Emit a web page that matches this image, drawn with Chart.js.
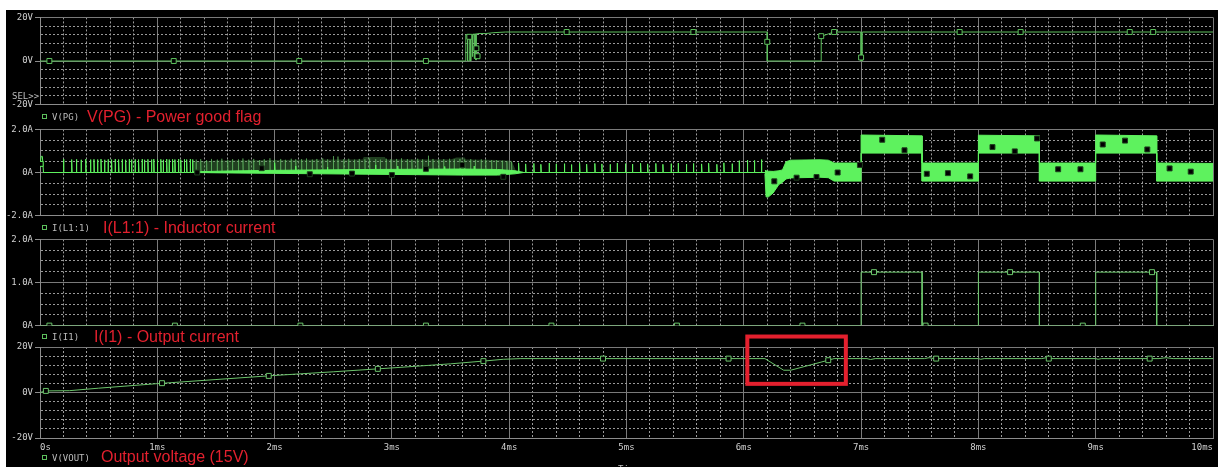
<!DOCTYPE html>
<html>
<head>
<meta charset="utf-8">
<title>Transient simulation</title>
<script src="https://cdn.jsdelivr.net/npm/chart.js@4.4.1/dist/chart.umd.min.js"></script>
<style>
  body { margin: 0; background: #fff; width: 1223px; height: 473px; overflow: hidden; position: relative; }
  #scope { position: absolute; left: 6px; top: 10px; width: 1212px; height: 457px; background: #000; overflow: hidden; }
  #scope canvas { position: absolute; left: 0; }
  .lbl { position: absolute; white-space: nowrap; }
  .mono { font: 9px "DejaVu Sans Mono", monospace; color: #bdbdbd; line-height: 10px; }
  .mono i { display: inline-block; width: 3px; height: 3px; border: 1px solid #5cbf5c; margin-right: 5px; vertical-align: 1px; }
  .red { font: 16px "Liberation Sans", Arial, sans-serif; color: #e3202e; line-height: 18px; }
</style>
</head>
<body>
<div id="scope">
  <canvas id="pgChart" width="1212" height="102" style="top:0px"></canvas>
  <canvas id="ilChart" width="1212" height="101" style="top:112px"></canvas>
  <canvas id="ioChart" width="1212" height="101" style="top:222px"></canvas>
  <canvas id="voChart" width="1212" height="120" style="top:324px"></canvas>

  <div class="lbl mono" style="left:6px;top:81px">SEL&gt;&gt;</div>
  <div class="lbl mono" style="left:36px;top:102px"><i></i>V(PG)</div>
  <div class="lbl red" style="left:81px;top:98px">V(PG) - Power good flag</div>
  <div class="lbl mono" style="left:36px;top:213px"><i></i>I(L1:1)</div>
  <div class="lbl red" style="left:97px;top:209px">I(L1:1) - Inductor current</div>
  <div class="lbl mono" style="left:36px;top:322px"><i></i>I(I1)</div>
  <div class="lbl red" style="left:88px;top:318px">I(I1) - Output current</div>
  <div class="lbl mono" style="left:36px;top:443px"><i></i>V(VOUT)</div>
  <div class="lbl red" style="left:95px;top:438px">Output voltage (15V)</div>
  <div class="lbl mono" style="left:612px;top:454px">Time</div>
</div>
<script>
// time axis (ms)
const timeTicks = [0, 1, 2, 3, 4, 5, 6, 7, 8, 9, 10];
const timeLabels = ['0s', '1ms', '2ms', '3ms', '4ms', '5ms', '6ms', '7ms', '8ms', '9ms', '10ms'];

// V(PG) - power good flag
const pgTicks = [-20, 0, 20];
const pgTickLabels = ['-20V', '0V', '20V'];
const pgT = [0, 3.63, 3.63, 3.645, 3.645, 3.66, 3.66, 3.67, 3.67, 3.675, 3.675, 3.685, 3.685, 3.69, 3.69, 3.70, 3.70, 3.705, 3.705, 3.715, 3.715, 3.72, 3.72, 3.73, 3.80, 3.87, 3.97, 6.20, 6.20, 6.66, 6.66, 6.72, 6.77, 7.00, 7.00, 7.01, 7.01, 10];
const pgV = [0, 0, 12.0, 12.0, 0, 0, 11.5, 11.5, 0, 0, 12.0, 12.0, 2.0, 2.0, 12.3, 12.3, 1.0, 1.0, 12.4, 12.4, 0.5, 0.5, 12.5, 12.6, 12.6, 13.0, 13.3, 13.3, 0, 0, 11.3, 12.4, 13.3, 13.3, 0, 0, 13.3, 13.3];
const pgMarkT = [0.08, 1.14, 2.21, 3.29, 3.66, 3.72, 3.73, 4.49, 5.57, 6.20, 6.66, 6.77, 7.00, 7.84, 8.36, 9.29, 9.49];
const pgMarkV = [0, 0, 0, 0, 11.1, 5.8, 2.2, 13.3, 13.3, 8.8, 11.4, 13.3, 1.6, 13.3, 13.3, 13.3, 13.3];

// I(L1:1) - inductor current
const ilTicks = [-2, 0, 2];
const ilTickLabels = ['-2.0A', '0A', '2.0A'];
const ilStartT = [0, 0.01, 0.02, 0.03];
const ilStartV = [0.4, 0.75, 0.75, 0];
const ilEarlyT = [0.20, 0.27, 0.31, 0.35, 0.39, 0.43, 0.46, 0.49, 0.52, 0.55, 0.58, 0.61, 0.64, 0.67, 0.70, 0.73, 0.76, 0.78, 0.81, 0.84, 0.87, 0.89, 0.92, 0.95, 0.97, 1.00, 1.03, 1.05, 1.08, 1.10, 1.13, 1.15, 1.18, 1.20, 1.23, 1.25, 1.28, 1.30];
const ilEarlyH = [0.62, 0.60, 0.61, 0.59, 0.62, 0.60, 0.61, 0.60, 0.62, 0.59, 0.61, 0.60, 0.62, 0.60, 0.61, 0.59, 0.62, 0.60, 0.61, 0.60, 0.62, 0.59, 0.61, 0.60, 0.62, 0.60, 0.61, 0.59, 0.62, 0.60, 0.61, 0.60, 0.62, 0.59, 0.61, 0.60, 0.62, 0.60];
const ilPeakT = [2.00, 2.18, 2.45, 2.86, 3.05, 3.45, 3.70];
const ilPeakH = [0.45, 0.30, 0.25, 0.35, 0.30, 0.28, 0.30];
const ilLateT = [4.08, 4.14, 4.21, 4.27, 4.34, 4.40, 4.47, 4.53, 4.60, 4.66, 4.73, 4.79, 4.86, 4.92, 4.99, 5.05, 5.12, 5.18, 5.25, 5.31, 5.38, 5.44, 5.51, 5.57, 5.64, 5.70, 5.77, 5.83, 5.90, 5.96, 6.03, 6.09, 6.15];
const ilLateH = [0.45, 0.40, 0.42, 0.38, 0.44, 0.40, 0.41, 0.37, 0.43, 0.39, 0.42, 0.40, 0.38, 0.44, 0.41, 0.39, 0.43, 0.40, 0.42, 0.38, 0.41, 0.44, 0.39, 0.42, 0.40, 0.43, 0.38, 0.45, 0.41, 0.55, 0.58, 0.56, 0.60];
const ilDenseT = [1.33, 1.37, 1.42, 1.46, 1.51, 1.55, 1.60, 1.64, 1.69, 1.73, 1.78, 1.82, 1.87, 1.91, 1.96, 2.00, 2.05, 2.09, 2.14, 2.18, 2.23, 2.27, 2.32, 2.36, 2.41, 2.45, 2.50, 2.54, 2.59, 2.63, 2.68, 2.72, 2.77, 2.81, 2.86, 2.90, 2.95, 2.99, 3.04, 3.08, 3.13, 3.17, 3.22, 3.26, 3.31, 3.35, 3.40, 3.44, 3.49, 3.53, 3.58, 3.62, 3.67, 3.71, 3.76, 3.80, 3.85, 3.89, 3.94, 3.98, 4.02];
const ilDenseH = [0.60, 0.62, 0.58, 0.63, 0.60, 0.64, 0.59, 0.62, 0.61, 0.65,
                  0.60, 0.63, 0.58, 0.62, 0.66, 0.60, 0.63, 0.59, 0.64, 0.61,
                  0.62, 0.65, 0.60, 0.63, 0.66, 0.61, 0.76, 0.74, 0.62, 0.64,
                  0.60, 0.63, 0.61, 0.65, 0.62, 0.60, 0.64, 0.61, 0.63, 0.66,
                  0.62, 0.60, 0.64, 0.61, 0.78, 0.63, 0.60, 0.62, 0.64, 0.61,
                  0.63, 0.60, 0.62, 0.59, 0.61, 0.60, 0.58, 0.57, 0.55, 0.52,
                  0.50];
const ilNoiseT = [1.30, 1.50, 2.00, 2.50, 2.75, 2.76, 2.94, 2.95, 3.50, 3.55, 3.62, 3.63, 3.90, 4.02, 4.06];
const ilNoiseHi = [0.50, 0.56, 0.58, 0.60, 0.60, 0.72, 0.72, 0.60, 0.60, 0.70, 0.70, 0.60, 0.58, 0.55, 0.05];
const ilBrightT = [1.30, 1.60, 2.00, 2.40, 2.80, 3.20, 3.60, 3.90, 4.05, 4.12];
const ilBrightHi = [0.03, 0.07, 0.10, 0.12, 0.14, 0.15, 0.16, 0.14, 0.08, 0.01];
const ilBrightLo = [0.00, -0.02, -0.04, -0.06, -0.08, -0.10, -0.12, -0.12, -0.06, 0.00];
const ilBandT = [6.18, 6.19, 6.21, 6.25, 6.30, 6.33, 6.36, 6.40, 6.65, 6.72, 6.77, 7.00, 7.00, 7.52, 7.52, 8.00, 8.00, 8.52, 8.52, 9.00, 9.00, 9.52, 9.52, 10];
const ilBandHi = [0.10, 0.08, 0.06, 0.05, 0.08, 0.12, 0.50, 0.57, 0.59, 0.57, 0.44, 0.44, 1.74, 1.70, 0.44, 0.44, 1.73, 1.70, 0.44, 0.44, 1.74, 1.70, 0.44, 0.42];
const ilBandLo = [-0.05, -1.13, -1.13, -0.95, -0.55, -0.45, -0.30, -0.25, -0.22, -0.24, -0.40, -0.40, 0.90, 0.90, -0.40, -0.40, 0.90, 0.90, -0.40, -0.40, 0.90, 0.90, -0.40, -0.40];
const ilMarkT = [0.006, 1.34, 1.89, 2.30, 2.66, 3.00, 3.29, 3.60, 3.95, 6.26, 6.45, 6.62, 6.80, 6.99, 7.18, 7.37, 7.56, 7.74, 7.93, 8.12, 8.31, 8.50, 8.68, 8.87, 9.06, 9.25, 9.44, 9.63, 9.81];
const ilMarkV = [0.40, 0.00, 0.20, -0.08, -0.05, -0.12, 0.17, 0.35, -0.20, -0.41, -0.24, -0.21, 0.00, 0.35, 1.52, 1.03, -0.06, -0.03, -0.18, 1.18, 0.98, 1.58, 0.15, 0.15, 1.30, 1.48, 1.07, 0.19, 0.04];

// I(I1) - output current
const ioTicks = [0, 1, 2];
const ioTickLabels = ['0A', '1.0A', '2.0A'];
const ioT = [0, 7.00, 7.00, 7.52, 7.52, 8.00, 8.00, 8.52, 8.52, 9.00, 9.00, 9.52, 9.52, 10];
const ioV = [0, 0, 1.24, 1.24, 0, 0, 1.24, 1.24, 0, 0, 1.24, 1.24, 0, 0];
const ioMarkT = [0.08, 1.15, 2.22, 3.29, 4.36, 5.43, 6.50, 7.11, 7.55, 8.27, 8.89, 9.48];
const ioMarkV = [0, 0, 0, 0, 0, 0, 0, 1.24, 0, 1.24, 0, 1.24];

// V(VOUT) - output voltage
const voTicks = [-20, 0, 20];
const voTickLabels = ['-20V', '0V', '20V'];
const voT = [0, 0.05, 0.25, 0.50, 1.00, 1.50, 2.00, 2.50, 3.00, 3.50, 3.80, 3.95, 4.10, 6.18, 6.34, 6.40, 6.72, 6.77, 7.05, 7.08, 7.12, 7.54, 7.58, 7.62, 8.00, 8.02, 8.05, 8.54, 8.58, 8.62, 9.00, 9.02, 9.05, 9.54, 9.60, 9.66, 10];
const voV = [0, 0.7, 0.8, 1.9, 3.9, 5.7, 7.5, 9.1, 10.8, 12.6, 13.9, 14.6, 14.9, 14.9, 9.8, 9.8, 14.2, 14.9, 14.9, 14.5, 14.9, 14.9, 15.3, 14.9, 14.9, 14.6, 14.9, 14.9, 15.3, 14.9, 14.9, 14.6, 14.9, 14.9, 15.3, 14.9, 14.9];
const voMarkT = [0.05, 1.04, 1.95, 2.88, 3.78, 4.80, 5.87, 6.72, 7.64, 8.60, 9.46];
const voMarkV = [0.7, 4.1, 7.3, 10.4, 13.8, 14.9, 14.9, 14.2, 14.9, 14.9, 14.9];

// highlighted dip (time ms, volts)
const hlT = [6.03, 6.87];
const hlV = [3.8, 24.6];

const TEXT = '#d0d0d0';
const GRID_DOT = '#9a9a9a';
const GRID_SOLID = '#7a7a7a';
const FRAME = '#8c8c8c';
const PG_COLOR = '#5cbf5c';
const IL_COLOR = '#5ef25e';
const IO_COLOR = '#6cc86c';
const VO_COLOR = '#6cc46c';
const MONO = { family: 'DejaVu Sans Mono', size: 9 };

const pts = (ts, vs) => ts.map((t, i) => ({ x: t, y: vs[i] }));
const spikeTrain = (ts, hs) => ts.flatMap((t, i) => [{ x: t, y: 0 }, { x: t, y: hs[i] }, { x: t + 0.004, y: 0 }]);
const near = (v, list) => list.some(m => Math.abs(m - v) < 1e-9);
const labelFor = (v, vals, labels) => {
  const i = vals.findIndex(m => Math.abs(m - v) < 1e-9);
  return i < 0 ? '' : labels[i];
};

function trace(data, color, extra) {
  return Object.assign({ data, borderColor: color, borderWidth: 1, pointRadius: 0, fill: false }, extra || {});
}
function markers(data, border) {
  return {
    data, showLine: false, pointStyle: 'rect', pointRadius: 3.5, pointBorderWidth: 1,
    pointBackgroundColor: '#000', pointBorderColor: border
  };
}

function makeScope(id, cfg) {
  return new Chart(document.getElementById(id), {
    type: 'line',
    data: { datasets: cfg.datasets },
    options: {
      responsive: false,
      animation: false,
      devicePixelRatio: 1,
      layout: { padding: cfg.pad },
      plugins: { legend: { display: false }, tooltip: { enabled: false } },
      elements: { line: { tension: 0 } },
      scales: {
        x: {
          type: 'linear', min: 0, max: 10,
          afterFit: s => { s.height = cfg.showTime ? 16 : 0; },
          ticks: {
            display: !!cfg.showTime, stepSize: 0.2, autoSkip: false, maxRotation: 0,
            align: 'inner', padding: 4, color: TEXT, font: MONO,
            callback: v => labelFor(v, timeTicks, timeLabels)
          },
          grid: { color: ctx => ctx.tick && near(ctx.tick.value, timeTicks) ? GRID_SOLID : GRID_DOT, drawTicks: false },
          border: { color: FRAME, dash: ctx => ctx.tick && !near(ctx.tick.value, timeTicks) ? [2, 2] : [] }
        },
        y: {
          type: 'linear', min: cfg.yMin, max: cfg.yMax,
          afterFit: s => { s.width = 34; },
          ticks: {
            stepSize: cfg.yStep, autoSkip: false, padding: 2, color: TEXT, font: MONO,
            callback: v => labelFor(v, cfg.yTicks, cfg.yLabels)
          },
          grid: {
            color: ctx => ctx.tick && near(ctx.tick.value, cfg.yTicks) ? GRID_SOLID : GRID_DOT,
            tickColor: ctx => ctx.tick && near(ctx.tick.value, cfg.yTicks) ? FRAME : 'rgba(0,0,0,0)',
            tickLength: 5
          },
          border: { color: FRAME, dash: ctx => ctx.tick && !near(ctx.tick.value, cfg.yTicks) ? [2, 2] : [] }
        }
      }
    },
    plugins: cfg.plugins || []
  });
}

const highlightPlugin = {
  id: 'highlight',
  afterDraw(chart) {
    const { ctx, scales: { x, y } } = chart;
    const x0 = x.getPixelForValue(hlT[0]);
    const x1 = x.getPixelForValue(hlT[1]);
    const y0 = y.getPixelForValue(hlV[1]);
    const y1 = y.getPixelForValue(hlV[0]);
    ctx.save();
    ctx.strokeStyle = '#e3202e';
    ctx.lineWidth = 4;
    ctx.strokeRect(x0, y0, x1 - x0, y1 - y0);
    ctx.restore();
  }
};

makeScope('pgChart', {
  yMin: -20, yMax: 20, yStep: 4, yTicks: pgTicks, yLabels: pgTickLabels,
  pad: { top: 6, bottom: 6, left: 0, right: 3 },
  datasets: [
    markers(pts(pgMarkT, pgMarkV), PG_COLOR),
    trace(pts(pgT, pgV), PG_COLOR)
  ]
});

const ilMain = [].concat(
  pts(ilStartT, ilStartV),
  spikeTrain(ilEarlyT, ilEarlyH),
  spikeTrain(ilPeakT, ilPeakH),
  spikeTrain(ilLateT, ilLateH),
  [{ x: 6.18, y: 0 }]
);

makeScope('ilChart', {
  yMin: -2, yMax: 2, yStep: 0.5, yTicks: ilTicks, yLabels: ilTickLabels,
  pad: { top: 6, bottom: 6, left: 0, right: 3 },
  datasets: [
    markers(pts(ilMarkT, ilMarkV), ctx => ctx.raw && ctx.raw.x < 0.5 ? IL_COLOR : '#1f3f1f'),
    trace(ilMain, IL_COLOR),
    trace(pts(ilBandT, ilBandHi), IL_COLOR, { fill: '+1', backgroundColor: IL_COLOR }),
    trace(pts(ilBandT, ilBandLo), IL_COLOR),
    trace(pts(ilBrightT, ilBrightHi), IL_COLOR, { fill: '+1', backgroundColor: IL_COLOR }),
    trace(pts(ilBrightT, ilBrightLo), IL_COLOR),
    trace(spikeTrain(ilDenseT, ilDenseH), 'rgba(100,190,100,0.55)'),
    trace(pts(ilNoiseT, ilNoiseHi), 'rgba(0,0,0,0)', { borderWidth: 0, fill: { value: 0 }, backgroundColor: 'rgba(70,140,70,0.45)' })
  ]
});

makeScope('ioChart', {
  yMin: 0, yMax: 2, yStep: 0.25, yTicks: ioTicks, yLabels: ioTickLabels,
  pad: { top: 6, bottom: 6, left: 0, right: 3 },
  datasets: [
    markers(pts(ioMarkT, ioMarkV), IO_COLOR),
    trace(pts(ioT, ioV), IO_COLOR)
  ]
});

makeScope('voChart', {
  yMin: -20, yMax: 20, yStep: 4, yTicks: voTicks, yLabels: voTickLabels,
  pad: { top: 13, bottom: 0, left: 0, right: 3 },
  showTime: true,
  plugins: [highlightPlugin],
  datasets: [
    markers(pts(voMarkT, voMarkV), VO_COLOR),
    trace(pts(voT, voV), VO_COLOR)
  ]
});
</script>
</body>
</html>
